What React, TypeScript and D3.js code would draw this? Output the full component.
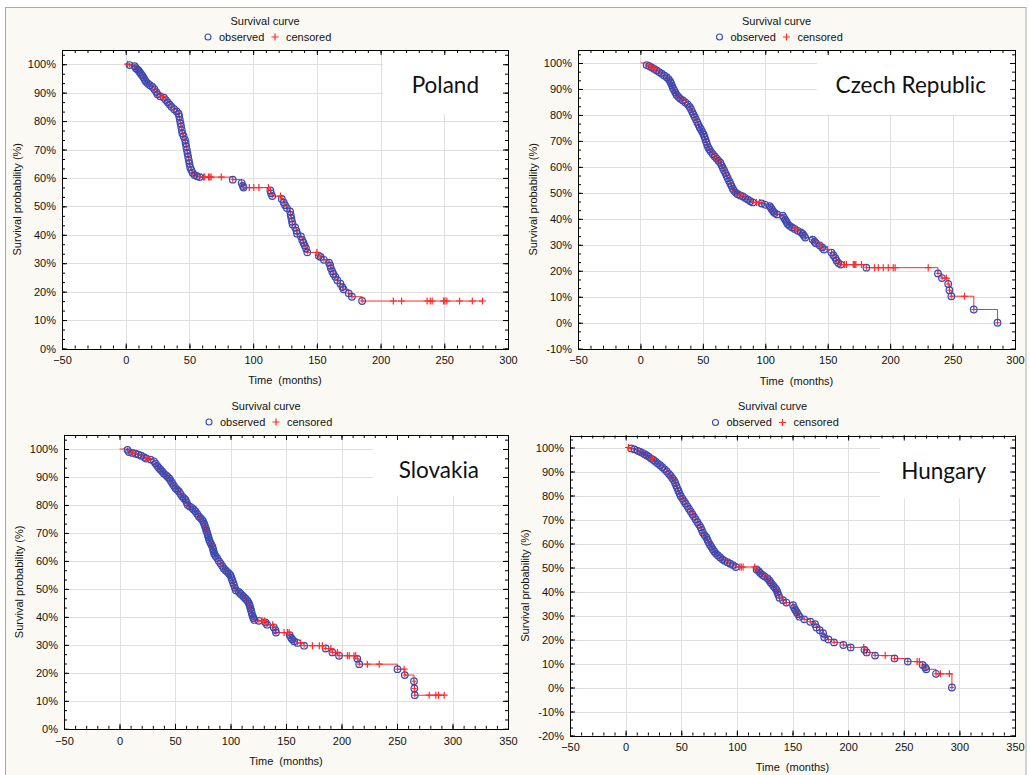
import React, { useEffect, useRef } from "react";
import * as d3 from "d3";

// ---- Poland ----
const polandEventTimes = [3, 7, 8, 9, 10, 11, 12, 13, 14, 15, 16, 17.5, 19, 21, 22.5, 24, 25, 27, 30, 31.5, 33, 34.5, 36, 38, 40, 41.5, 42, 42.5, 43, 43.5, 44, 44.5, 45.5, 46.5, 47, 47.5, 48, 48.5, 49, 49.5, 50, 50.5, 51.5, 52.5, 54, 56, 58, 84, 91, 92, 92.5, 113.5, 114, 115, 122.5, 124, 125, 126.5, 129, 129.5, 130, 130.5, 131, 133, 134, 134.5, 137.5, 138.5, 139.5, 140.5, 141.5, 142.5, 151.5, 153, 155.5, 159.5, 160.5, 161, 162, 163, 164.5, 166, 168.5, 170, 171, 175, 177.5, 185.5];
const polandEventSurv = [99.7, 99.3, 98.6, 98.2, 97.8, 97.2, 96.6, 96, 95.3, 94.5, 93.8, 93.2, 92.6, 92, 91.2, 90.2, 89.4, 88.7, 88.2, 87.4, 86.6, 85.8, 85, 84.2, 83.4, 82.6, 81.6, 80.4, 79.2, 78, 76.8, 75.6, 74.6, 73.4, 72.2, 71, 69.8, 68.6, 67.4, 66.2, 65, 63.8, 62.8, 61.8, 61, 60.6, 60.3, 59.4, 58.2, 57.2, 56.6, 55.6, 54.6, 53.6, 52.6, 51.4, 50.4, 49.4, 48.2, 47, 45.8, 44.6, 43.6, 42.6, 41.4, 40.4, 39.4, 38.2, 37.2, 36.2, 35.2, 33.8, 32.6, 32.2, 31.2, 30.2, 29.2, 28.2, 27.2, 26.2, 25.2, 24, 22.8, 21.6, 20.8, 19.4, 18.2, 16.7];
const polandCensoredTimes = [1.5, 29, 61, 62, 65, 66, 67, 75, 97, 100.5, 104.5, 112, 121.5, 150, 210, 216.5, 236.5, 239, 240.5, 249.5, 250.5, 252, 262, 272, 280];

// ---- Czech Republic ----
const czechEventTimes = [5, 7, 9, 11, 13, 15, 17, 19, 21, 22.5, 23.7, 24.5, 25.3, 26, 27, 28, 29, 30.5, 32, 34, 36, 38, 39.5, 40.5, 41.5, 42.5, 43.5, 44.5, 45.5, 46.5, 47.5, 48.5, 49.5, 50.5, 51.3, 52, 52.7, 53.4, 54.2, 55.3, 56.5, 58, 59.5, 61, 62.5, 64, 65, 66, 67, 68, 69, 70, 71, 72, 73, 74, 75, 76.5, 78, 80, 82, 84, 86, 88, 90, 97, 100, 103.5, 104.5, 105.5, 106.5, 107.5, 109.5, 114, 115, 116, 117, 118, 119.5, 121.5, 123.5, 126, 128.5, 130, 131, 132, 138, 139.5, 140.5, 143.5, 145.5, 147, 153, 154.5, 156, 157, 158.5, 160.5, 181, 238.3, 241.5, 246.5, 247.5, 249, 267, 286];
const czechEventSurv = [99.2, 98.8, 98.3, 97.7, 97.1, 96.5, 95.9, 95.2, 94.5, 93.8, 93, 92.2, 91.3, 90.4, 89.5, 88.6, 87.7, 86.9, 86.2, 85.6, 84.8, 84, 83.1, 82.2, 81.2, 80.2, 79.2, 78.2, 77.2, 76.2, 75.2, 74.4, 73.5, 72.6, 71.6, 70.6, 69.6, 68.6, 67.6, 66.7, 65.8, 64.9, 64, 63.2, 62.4, 61.6, 60.6, 59.6, 58.6, 57.6, 56.6, 55.6, 54.6, 53.6, 52.6, 51.6, 50.8, 50, 49.5, 49, 48.6, 48, 47.4, 46.8, 46.3, 45.9, 45.4, 44.9, 44.2, 43.5, 42.8, 42.2, 41.7, 41.2, 40.4, 39.6, 38.8, 38, 37.3, 36.7, 36.1, 35.4, 34.8, 34.2, 33.5, 32.8, 32, 31.2, 30.6, 29.8, 29, 28.2, 27, 26, 25, 24, 23, 22.4, 21.2, 19, 17.2, 14.9, 12.5, 10.2, 5.1, 0];
const czechCensoredTimes = [8, 11, 80.5, 93, 95.5, 124, 144.5, 150, 163.5, 165, 170.5, 171.5, 172.5, 177, 187.5, 190.5, 194.5, 198.5, 202.5, 204, 230.5, 245, 259.5];

// ---- Slovakia ----
const slovakiaEventTimes = [7.2, 8.5, 11.5, 14.5, 17, 19.5, 22, 24, 28, 31, 32.5, 34, 35.5, 37, 38.5, 40, 42, 43.5, 45, 46.3, 47.5, 49, 50.5, 52, 53.5, 55, 56.5, 58, 59.5, 60.5, 61.5, 63.5, 65.5, 67, 68.5, 70, 71.5, 73, 74.5, 75.5, 76.3, 77, 77.7, 78.3, 79, 79.6, 80.2, 80.8, 81.7, 82.7, 83.7, 84.3, 84.8, 85.3, 86.5, 88, 89.5, 91, 92.5, 94, 95.5, 97, 98.5, 100, 100.8, 101.6, 102.4, 103.2, 104, 104.8, 107.5, 109, 110.5, 112, 113.5, 115, 116, 116.8, 117.4, 118, 118.6, 119.2, 119.8, 120.6, 121.4, 125.5, 131.5, 133, 139, 140.5, 141, 153.3, 154.5, 155.5, 157.3, 160.3, 166.3, 185.8, 191.8, 197.8, 214.3, 216, 250.4, 257, 265.3, 265.6, 266];
const slovakiaEventSurv = [99.7, 98.9, 98.6, 98.3, 98, 97.6, 97.1, 96.6, 96.2, 95.6, 94.8, 94, 93.2, 92.6, 92, 91.2, 90.6, 90, 89.4, 88.6, 87.8, 86.9, 86, 85.4, 84.8, 83.9, 83, 82.4, 81.8, 80.9, 80, 79.4, 78.9, 78.3, 77.7, 76.8, 75.9, 75.3, 74.7, 74, 73.2, 72.4, 71.6, 70.8, 70, 69.2, 68.4, 67.5, 66.7, 65.9, 65.1, 64.2, 63.4, 62.6, 61.8, 61, 60, 59.1, 58.2, 57.3, 56.7, 56.1, 55.5, 54.9, 54, 53.1, 52.2, 51.3, 50.4, 49.5, 48.9, 48.3, 47.7, 47.1, 46.5, 45.9, 45.3, 44.6, 43.9, 43, 42.2, 41.3, 40.4, 39.6, 38.9, 38.6, 38, 37.2, 36.2, 35.3, 34.4, 33.5, 32.6, 32, 31.3, 30.7, 29.7, 28.7, 27.3, 26.1, 25, 23.1, 21.3, 19.2, 17, 14.4, 12];
const slovakiaCensoredTimes = [12, 26, 128.5, 130.5, 138, 148.3, 151.3, 152.8, 163.3, 173.8, 180, 182.8, 190.4, 196.3, 205.3, 207, 211.3, 212.8, 223.3, 234, 256.4, 279, 285, 287.4, 292.5];

// ---- Hungary ----
const hungaryEventTimes = [5, 8, 11, 13, 15, 17, 19, 21, 23, 25, 27, 29, 31, 33, 35, 37, 39, 40.5, 42, 43.5, 44.5, 45.5, 46.5, 47.5, 48.5, 49.5, 51, 52.5, 54, 55.5, 57, 58.5, 60, 61.5, 63, 64.5, 66, 67.5, 68.5, 69.5, 71, 72.5, 73.5, 74.5, 75.8, 77, 78.3, 79.7, 81.2, 83, 85, 87, 89, 91.5, 94, 96.5, 99, 117.7, 119.5, 121, 123, 125, 127.5, 129, 130.2, 131.5, 133, 134.5, 135.7, 136.5, 137.3, 138.3, 141.5, 144.5, 150.5, 151.5, 152.5, 153.8, 155, 156.3, 160.5, 166, 170.3, 171.5, 174.5, 177.5, 178.5, 182.3, 187.3, 195.7, 202.3, 214.7, 216.7, 224.2, 241.7, 253.6, 267, 269.2, 270.2, 279, 293.3];
const hungaryEventSurv = [99.6, 99.2, 98.6, 98.2, 97.8, 97.2, 96.7, 96.1, 95.4, 94.8, 94.1, 93.3, 92.6, 91.8, 90.9, 90, 89, 88.2, 87.2, 86.3, 85.2, 84.1, 83, 81.9, 80.8, 79.8, 78.7, 77.6, 76.6, 75.5, 74.4, 73.3, 72.2, 71.1, 70, 68.9, 67.8, 66.7, 65.6, 64.5, 63.4, 62.6, 61.6, 60.5, 59.5, 58.6, 57.6, 56.7, 55.8, 55, 54.2, 53.4, 52.8, 52.2, 51.6, 51, 50.2, 49.2, 48.5, 47.7, 46.9, 46.2, 45.5, 44.7, 43.9, 43.1, 42.2, 41.4, 40.6, 39.6, 38.6, 37.4, 36.4, 35.4, 34.3, 33.2, 32.3, 31.4, 30.5, 29.5, 28.4, 27.4, 26.4, 25, 23.9, 22.6, 20.9, 20, 18.8, 17.7, 16.7, 15.7, 14.6, 13.3, 12.1, 10.8, 9.4, 8.4, 7.6, 5.7, 0];
const hungaryCensoredTimes = [2.5, 24, 102.6, 104, 105.6, 116, 140.5, 214, 233.3, 262, 264, 283, 291];

const countries = ["Poland", "Czech Republic", "Slovakia", "Hungary"];

const panels = [
  { name: countries[0], left: 62, right: 508, top: 50, bottom: 348.5, xMax: 300, yMin: 0, boxW: 125, boxH: 63, evT: polandEventTimes, evS: polandEventSurv, cT: polandCensoredTimes },
  { name: countries[1], left: 578, right: 1015, top: 50, bottom: 348.7, xMax: 300, yMin: -10, boxW: 198, boxH: 63, evT: czechEventTimes, evS: czechEventSurv, cT: czechCensoredTimes },
  { name: countries[2], left: 64, right: 508, top: 435, bottom: 728.8, xMax: 350, yMin: 0, boxW: 135, boxH: 60, evT: slovakiaEventTimes, evS: slovakiaEventSurv, cT: slovakiaCensoredTimes },
  { name: countries[3], left: 570, right: 1015, top: 435.5, bottom: 735.5, xMax: 350, yMin: -20, boxW: 135, boxH: 62, evT: hungaryEventTimes, evS: hungaryEventSurv, cT: hungaryCensoredTimes },
];

const FONT = "'Liberation Sans', Arial, sans-serif";
const BLUE = "#3a48b2";
const RED = "#ff2a2a";

function KMPanel({ p }: { p: any }) {
  const ref = useRef<SVGGElement>(null);

  useEffect(() => {
    const g = d3.select(ref.current);
    g.selectAll("*").remove();

    const x = d3.scaleLinear().domain([-50, p.xMax]).range([p.left, p.right]);
    const y = d3.scaleLinear().domain([p.yMin, 105]).range([p.bottom, p.top]);
    const cx = (p.left + p.right) / 2;
    const w = p.right - p.left;
    const h = p.bottom - p.top;

    g.append("rect")
      .attr("x", p.left).attr("y", p.top)
      .attr("width", w).attr("height", h)
      .attr("fill", "#fff");

    const xMajor = d3.range(0, p.xMax, 50);
    const yMajor = d3.range(p.yMin, 100.1, 10);
    const xMinor = d3.range(-50, p.xMax + 0.1, 10);
    const yMinor = d3.range(p.yMin, 105, 10 / 3);

    // grid
    g.append("g").selectAll("line").data(xMajor).join("line")
      .attr("x1", (d) => Math.round(x(d)) + 0.5).attr("x2", (d) => Math.round(x(d)) + 0.5)
      .attr("y1", p.top).attr("y2", p.bottom)
      .attr("stroke", "#dfdfdf");
    g.append("g").selectAll("line").data(yMajor.filter((d) => d > p.yMin)).join("line")
      .attr("y1", (d) => Math.round(y(d)) + 0.5).attr("y2", (d) => Math.round(y(d)) + 0.5)
      .attr("x1", p.left).attr("x2", p.right)
      .attr("stroke", "#dfdfdf");

    // white box behind the country name
    g.append("rect")
      .attr("x", p.right - p.boxW).attr("y", p.top + 1)
      .attr("width", p.boxW - 1).attr("height", p.boxH)
      .attr("fill", "#fff");

    g.append("text")
      .attr("x", p.right - 29).attr("y", p.top + 43)
      .attr("text-anchor", "end")
      .attr("font-family", "Lato, 'Open Sans', sans-serif")
      .attr("font-size", 22.5)
      .attr("fill", "#111")
      .text(p.name);

    // axes: inward ticks on all sides
    const axisStyle = (sel: any) => {
      sel.select(".domain").remove();
      sel.selectAll("line").attr("stroke", "#000");
      sel.selectAll("text").attr("font-family", FONT).attr("font-size", 11).attr("fill", "#111");
    };
    const fmtPct = (d: any) => `${d}%`;

    g.append("g").attr("transform", `translate(0,${p.bottom})`)
      .call(d3.axisBottom(x).tickValues(xMinor).tickSize(-3).tickFormat(() => ""))
      .call(axisStyle);
    g.append("g").attr("transform", `translate(0,${p.bottom})`)
      .call(d3.axisBottom(x).tickValues(d3.range(-50, p.xMax + 1, 50)).tickSize(-5).tickPadding(8).tickFormat(d3.format("d")))
      .call(axisStyle);
    g.append("g").attr("transform", `translate(0,${p.top})`)
      .call(d3.axisTop(x).tickValues(xMinor).tickSize(-3).tickFormat(() => ""))
      .call(axisStyle);
    g.append("g").attr("transform", `translate(0,${p.top})`)
      .call(d3.axisTop(x).tickValues(xMajor).tickSize(-5).tickFormat(() => ""))
      .call(axisStyle);
    g.append("g").attr("transform", `translate(${p.left},0)`)
      .call(d3.axisLeft(y).tickValues(yMinor).tickSize(-3).tickFormat(() => ""))
      .call(axisStyle);
    g.append("g").attr("transform", `translate(${p.left},0)`)
      .call(d3.axisLeft(y).tickValues(yMajor).tickSize(-5).tickPadding(6).tickFormat(fmtPct))
      .call(axisStyle);
    g.append("g").attr("transform", `translate(${p.right},0)`)
      .call(d3.axisRight(y).tickValues(yMinor).tickSize(-3).tickFormat(() => ""))
      .call(axisStyle);
    g.append("g").attr("transform", `translate(${p.right},0)`)
      .call(d3.axisRight(y).tickValues(yMajor).tickSize(-5).tickFormat(() => ""))
      .call(axisStyle);

    g.append("rect")
      .attr("x", Math.round(p.left) + 0.5).attr("y", Math.round(p.top) + 0.5)
      .attr("width", Math.round(w)).attr("height", Math.round(h))
      .attr("fill", "none").attr("stroke", "#000");

    // Kaplan-Meier step curve
    const evT: number[] = p.evT;
    const evS: number[] = p.evS;
    const survAt = (t: number) => {
      const i = d3.bisectRight(evT, t) - 1;
      return i < 0 ? 100 : evS[i];
    };
    const pts: [number, number][] = [[0, 100], ...evT.map((t, i) => [t, evS[i]] as [number, number])];
    const lastC = d3.max(p.cT as number[]) ?? 0;
    if (lastC > evT[evT.length - 1]) pts.push([lastC, evS[evS.length - 1]]);

    const line = d3.line<[number, number]>()
      .x((d) => x(d[0])).y((d) => y(d[1]))
      .curve(d3.curveStepAfter);
    g.append("path").attr("d", line(pts)).attr("fill", "none").attr("stroke", RED).attr("stroke-width", 1);

    const plus = (sel: any, xs: number[], ys: (d: number, i: number) => number, s: number, sw: number) => {
      sel.selectAll("path").data(xs).join("path")
        .attr("d", (d: number, i: number) => {
          const px = x(d), py = ys(d, i);
          return `M${px - s},${py}H${px + s}M${px},${py - s}V${py + s}`;
        })
        .attr("stroke", RED).attr("stroke-width", sw).attr("fill", "none");
    };
    plus(g.append("g"), evT, (d, i) => y(evS[i]), 2.3, 1);

    g.append("g").selectAll("circle").data(evT).join("circle")
      .attr("cx", (d) => x(d)).attr("cy", (d, i) => y(evS[i]))
      .attr("r", 3.3).attr("fill", "none").attr("stroke", BLUE).attr("stroke-width", 1.2);

    plus(g.append("g"), p.cT, (d) => y(survAt(d)), 3.5, 1.2);

    // titles & legend
    g.append("text").attr("x", cx - 20).attr("y", p.top - 29).attr("dy", "0.35em")
      .attr("text-anchor", "middle").attr("font-family", FONT).attr("font-size", 11).attr("fill", "#111")
      .text("Survival curve");
    const ly = p.top - 13;
    g.append("circle").attr("cx", cx - 77).attr("cy", ly).attr("r", 3)
      .attr("fill", "none").attr("stroke", BLUE).attr("stroke-width", 1.1);
    g.append("text").attr("x", cx - 66).attr("y", ly).attr("dy", "0.35em")
      .attr("font-family", FONT).attr("font-size", 11).attr("fill", "#111").text("observed");
    g.append("path").attr("d", `M${cx - 13.5},${ly}h7M${cx - 10},${ly - 3.5}v7`)
      .attr("stroke", RED).attr("stroke-width", 1.2);
    g.append("text").attr("x", cx + 1).attr("y", ly).attr("dy", "0.35em")
      .attr("font-family", FONT).attr("font-size", 11).attr("fill", "#111").text("censored");

    g.append("text").attr("x", cx).attr("y", p.bottom + 32).attr("dy", "0.35em")
      .attr("text-anchor", "middle").attr("font-family", FONT).attr("font-size", 11).attr("fill", "#111")
      .style("white-space", "pre")
      .text("Time  (months)");
    g.append("text")
      .attr("transform", `translate(${p.left - 45},${(p.top + p.bottom) / 2}) rotate(-90)`)
      .attr("dy", "0.35em")
      .attr("text-anchor", "middle").attr("font-family", FONT).attr("font-size", 11).attr("fill", "#111")
      .text("Survival probability (%)");
  }, [p]);

  return <g ref={ref} />;
}

export default function App() {
  return (
    <svg width={1030} height={775} style={{ position: "absolute", left: 0, top: 0, background: "#fff" }}>
      <rect x={5.5} y={7.5} width={1020.5} height={780} fill="#fbf9f3" stroke="#a9a9a9" />
      {panels.map((p) => (
        <KMPanel key={p.name} p={p} />
      ))}
    </svg>
  );
}
